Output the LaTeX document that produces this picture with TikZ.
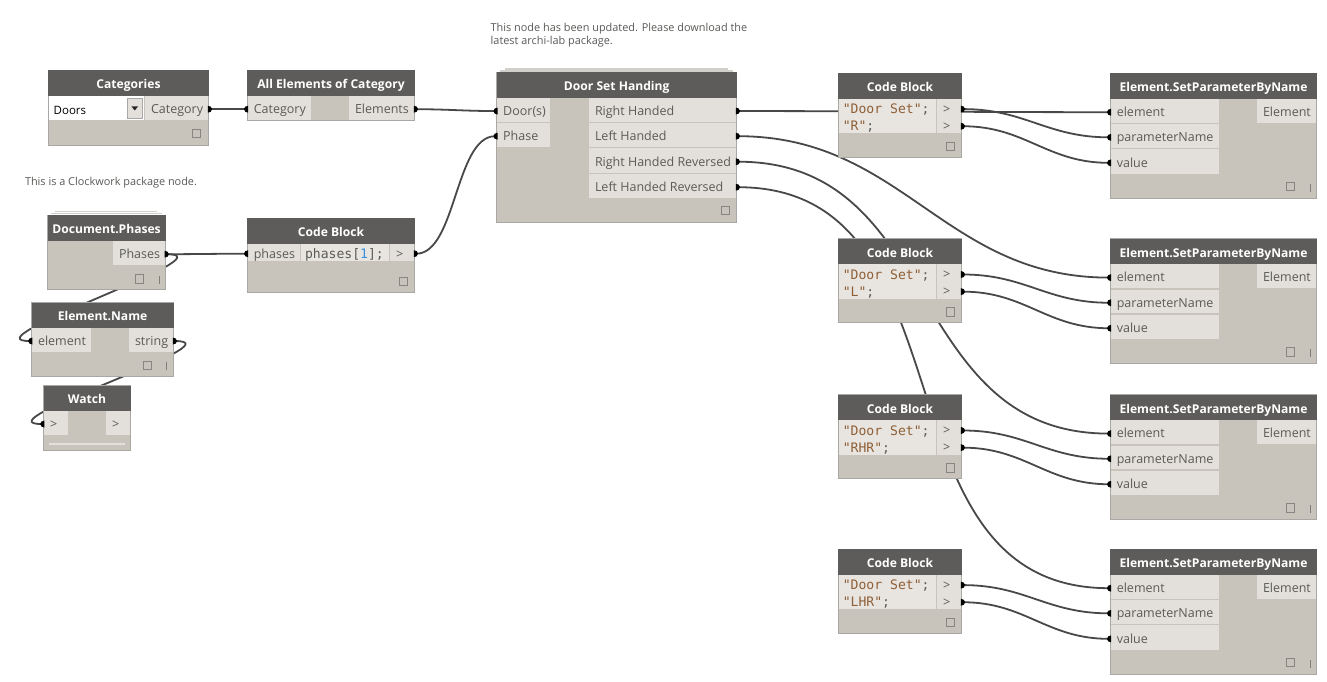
\documentclass[tikz,border=0pt]{standalone}
\usepackage{fontspec}
\setmainfont{Open Sans}
\setmonofont{DejaVu Sans Mono}
\definecolor{headc}{HTML}{5E5C5A}
\definecolor{bodyc}{HTML}{C8C4BC}
\definecolor{portc}{HTML}{E3E0DB}
\definecolor{codec}{HTML}{E8E5E1}
\definecolor{edgec}{HTML}{A9A8A4}
\definecolor{textc}{HTML}{5A5A58}
\definecolor{strc}{HTML}{8E5F36}
\definecolor{numc}{HTML}{3A8FDC}
\definecolor{wirec}{HTML}{484848}
\definecolor{stackc}{HTML}{D2D0CA}
\pgfdeclarelayer{back}
\pgfdeclarelayer{wires}
\pgfsetlayers{back,wires,main}
\tikzset{
  x=1pt,y=-1pt,
  bodybox/.style={draw=edgec,line width=0.9pt,fill=bodyc,inner sep=0pt,outer sep=0pt,anchor=north west},
  headbox/.style={fill=headc,text=white,inner sep=0pt,outer sep=0pt,anchor=north west,font=\fontsize{12.1}{15}\selectfont\bfseries,text height=12pt,text depth=1pt},
  portcell/.style={fill=portc,text=textc,inner ysep=0pt,inner xsep=6pt,outer sep=0pt,anchor=north west,font=\fontsize{12.5}{15}\selectfont,text height=13pt,text depth=2pt},
  codecell/.style={fill=codec,text=textc,inner ysep=0pt,inner xsep=4pt,outer sep=0pt,anchor=north west,align=left,font=\ttfamily\fontsize{13.1}{17}\selectfont},
  wire/.style={draw=wirec,line width=1.8pt},
  note/.style={text=textc,inner sep=0pt,anchor=north west,align=left,font=\fontsize{10.9}{13}\selectfont},
  sqmark/.style={draw=edgec!80!black,line width=0.8pt},
  barmark/.style={draw=edgec!75!black,line width=1pt},
  stackline/.style={draw=stackc,line width=1.2pt}
}
% name x1 y1 x2 y2 yheader title
\newcommand\nodebox[7]{%
  \pgfmathsetmacro\bw{#4-#2}\pgfmathsetmacro\bh{#5-#3}\pgfmathsetmacro\bt{#6-#3}%
  \node[bodybox,minimum width=\bw pt,minimum height=\bh pt] (#1) at (#2,#3) {};
  \node[headbox,minimum width=\bw pt,minimum height=\bt pt] (#1-h) at (#2,#3) {#7};
}
% name x1 y1 x2 y2 text
\newcommand\portbox[6]{%
  \pgfmathsetmacro\ph{#5-#3}\pgfmathsetmacro\pq{#4-#2-12}%
  \node[portcell,minimum height=\ph pt] (#1) at (#2,#3) {\makebox[\pq pt][l]{#6}};
}
\newcommand\dotout[1]{\fill[black] ([shift={(-0.4pt,-4.7pt)}]#1.east) arc[start angle=-90,end angle=90,x radius=4.2pt,y radius=3.5pt] -- cycle;}
\newcommand\dotin[1]{\fill[black] ([shift={(0.4pt,-4.7pt)}]#1.west) arc[start angle=-90,end angle=-270,x radius=4.2pt,y radius=3.5pt] -- cycle;}
% from to ctrl
\newcommand\wire[3]{\draw[wire] ([shift={(2pt,-1.2pt)}]#1.east) .. controls +(#3,0) and +(-#3,0) .. ([shift={(-2pt,-1.2pt)}]#2.west);}
\newcommand\sqbox[2]{\draw[sqmark] (#1,#2) rectangle ++(8.5,8.5);}
\newcommand\barbox[2]{\draw[barmark] (#1,#2) -- ++(0,8);}
% name y0 second-line
\newcommand\codeblock[3]{%
  \pgfmathsetmacro\ya{#2+25.7}\pgfmathsetmacro\yb{#2+43.5}\pgfmathsetmacro\yc{#2+60}\pgfmathsetmacro\yd{#2+84}\pgfmathsetmacro\ye{#2+68.7}%
  \nodebox{#1}{838.3}{#2}{961.7}{\yd}{\ya}{Code Block}
  \node[codecell,text width=89.5pt,minimum height=34.3pt,text height=10pt,text depth=14.5pt] (#1-c) at (838.8,\ya) {\spaceskip=7.9pt\relax\textcolor{strc}{"Door Set"};\\\textcolor{strc}{"#3"};};
  \portbox{#1-o1}{937}{\ya}{961.2}{\yb}{>}
  \portbox{#1-o2}{937}{\yb}{961.2}{\yc}{>}
  \dotout{#1-o1}\dotout{#1-o2}
  \sqbox{946}{\ye}
}
% name y0
\newcommand\setblock[2]{%
  \pgfmathsetmacro\ya{#2+25.7}\pgfmathsetmacro\yb{#2+49.7}\pgfmathsetmacro\yc{#2+51}\pgfmathsetmacro\yd{#2+74.7}%
  \pgfmathsetmacro\ye{#2+76}\pgfmathsetmacro\yf{#2+100.7}\pgfmathsetmacro\yg{#2+125}\pgfmathsetmacro\yh{#2+108.7}\pgfmathsetmacro\yi{#2+110.7}%
  \nodebox{#1}{1110.3}{#2}{1316.7}{\yg}{\ya}{Element.SetParameterByName}
  \portbox{#1-el}{1110.8}{\ya}{1219}{\yb}{element}
  \portbox{#1-pn}{1110.8}{\yc}{1219}{\yd}{parameterName}
  \portbox{#1-va}{1110.8}{\ye}{1219}{\yf}{value}
  \portbox{#1-out}{1257}{\ya}{1316.2}{\yb}{Element}
  \dotin{#1-el}\dotin{#1-pn}\dotin{#1-va}
  \sqbox{1286.3}{\yh}
  \barbox{1310}{\yi}
}
\begin{document}
\begin{tikzpicture}
\useasboundingbox (0,0) rectangle (1327,682);
\begin{pgfonlayer}{back}
\fill[white] (0,0) rectangle (1327,682);
\end{pgfonlayer}

% Categories
\nodebox{cat}{48.3}{70.3}{208.7}{145.7}{96}{Categories}
\portbox{cat-o}{145}{96}{208.2}{120}{Category}
\node[draw=white,line width=1pt,fill=white,inner sep=0pt,outer sep=0pt,anchor=north west,minimum width=94pt,minimum height=23pt] (combo) at (49.5,97) {};
\node[anchor=west,inner sep=0pt,text=black,font=\fontsize{11.5}{14}\selectfont] (combo-t) at (53.5,110) {Doors};
\node[draw=edgec,fill=portc,inner sep=0pt,outer sep=0pt,anchor=north west,minimum width=15pt,minimum height=20pt] (combo-b) at (127.5,98) {};
\fill[black!85] (131.5,106.5) -- (138,106.5) -- (134.75,110.5) -- cycle;
\dotout{cat-o}
\sqbox{192.3}{129}

% All Elements of Category
\nodebox{all}{247.3}{70.3}{414.7}{120.5}{96}{All Elements of Category}
\portbox{all-i}{247.8}{96}{311}{120}{Category}
\portbox{all-o}{349}{96}{414.2}{120}{Elements}
\dotin{all-i}\dotout{all-o}

% notes
\node[note] (note1) at (24.8,177.5) {This is a Clockwork package node.};
\node[note] (note2) at (490.5,23) {This node has been updated. Please download the\\latest archi-lab package.};

% Document.Phases
\draw[stackline] (55,211.5) -- (157,211.5);
\draw[stackline] (51,213.7) -- (162,213.7);
\nodebox{doc}{47.7}{215}{165.5}{289}{241}{Document.Phases}
\portbox{doc-o}{113}{241}{165}{265}{Phases}
\dotout{doc-o}
\sqbox{135.3}{274.5}
\barbox{159}{276}

% Code Block phases
\nodebox{idx}{247.3}{218.3}{414.7}{292.7}{244}{Code Block}
\portbox{idx-i}{247.8}{244}{300}{261}{phases}
\node[codecell,text width=80pt,minimum height=17pt,text height=12pt,text depth=1pt] (idx-c) at (301,244) {phases[\textcolor{numc}{1}];};
\portbox{idx-o}{390}{244}{414.2}{261}{>}
\dotin{idx-i}\dotout{idx-o}
\sqbox{399.3}{277}

% Element.Name
\nodebox{ename}{31.5}{302.7}{173.7}{376.7}{327.7}{Element.Name}
\portbox{ename-i}{32}{327.7}{91}{352}{element}
\portbox{ename-o}{129}{327.7}{173.2}{352}{string}
\dotin{ename-i}\dotout{ename-o}
\sqbox{143.3}{361}
\barbox{166.7}{362}

% Watch
\nodebox{watch}{43.5}{385.7}{130.5}{450.7}{410.7}{Watch}
\portbox{watch-i}{44}{410.7}{68}{435}{>}
\portbox{watch-o}{106}{410.7}{130}{435}{>}
\dotin{watch-i}
\draw[draw=portc,line width=2pt] (49,443.7) -- (125,443.7);

% Door Set Handing
\draw[stackline] (505,69) -- (728,69);
\draw[stackline] (500,71) -- (733,71);
\nodebox{door}{496.7}{72}{736.7}{222.3}{97.7}{Door Set Handing}
\portbox{door-i1}{497.2}{97.7}{550}{122}{Door(s)}
\portbox{door-i2}{497.2}{123}{550}{147}{Phase}
\portbox{door-o1}{589}{97.7}{736.2}{122}{Right Handed}
\portbox{door-o2}{589}{123}{736.2}{147}{Left Handed}
\portbox{door-o3}{589}{148}{736.2}{173}{Right Handed Reversed}
\portbox{door-o4}{589}{174}{736.2}{198}{Left Handed Reversed}
\dotin{door-i1}\dotin{door-i2}
\dotout{door-o1}\dotout{door-o2}\dotout{door-o3}\dotout{door-o4}
\sqbox{721}{206}

% Code blocks
\codeblock{cr}{73.3}{R}
\codeblock{cl}{238.7}{L}
\codeblock{crh}{394.7}{RHR}
\codeblock{clh}{549.3}{LHR}

% SetParameterByName
\setblock{s1}{73.3}
\setblock{s2}{238.7}
\setblock{s3}{394.7}
\setblock{s4}{549.3}

\begin{pgfonlayer}{wires}
\wire{cat-o}{all-i}{12}
\wire{all-o}{door-i1}{30}
\wire{doc-o}{idx-i}{30}
\wire{idx-o}{door-i2}{40}
\wire{doc-o}{ename-i}{65}
\wire{ename-o}{watch-i}{65}
\wire{door-o1}{s1-el}{120}
\wire{door-o2}{s2-el}{165}
\wire{door-o3}{s3-el}{205}
\wire{door-o4}{s4-el}{240}
\wire{cr-o1}{s1-pn}{62}
\wire{cr-o2}{s1-va}{62}
\wire{cl-o1}{s2-pn}{62}
\wire{cl-o2}{s2-va}{62}
\wire{crh-o1}{s3-pn}{62}
\wire{crh-o2}{s3-va}{62}
\wire{clh-o1}{s4-pn}{62}
\wire{clh-o2}{s4-va}{62}
\end{pgfonlayer}
\end{tikzpicture}
\end{document}
